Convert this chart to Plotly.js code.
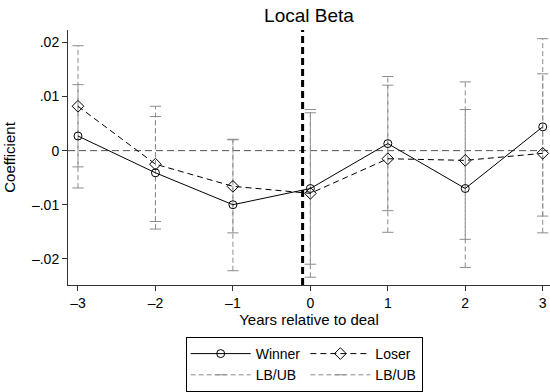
<!DOCTYPE html>
<html><head><meta charset="utf-8">
<script src="https://cdn.plot.ly/plotly-3.0.1.min.js"></script>
<style>html,body{margin:0;padding:0;background:#fff}</style>
</head><body><div id="chart" style="width:550px;height:392px"></div>
<script>
const years = [-3, -2, -1, 0, 1, 2, 3];
const xTickLabels = ['–3', '–2', '–1', '0', '1', '2', '3'];
const winner = [0.0027, -0.0041, -0.0100, -0.0070, 0.0013, -0.0070, 0.0044];
const winnerLB = [-0.0069, -0.0145, -0.0222, -0.0210, -0.0111, -0.0216, -0.0121];
const winnerUB = [0.0122, 0.0063, 0.0021, 0.0070, 0.0137, 0.0076, 0.0207];
const loser = [0.0082, -0.0025, -0.0066, -0.0079, -0.0015, -0.0018, -0.0005];
const loserLB = [-0.0030, -0.0131, -0.0152, -0.0234, -0.0151, -0.0164, -0.0152];
const loserUB = [0.0194, 0.0082, 0.0020, 0.0076, 0.0121, 0.0127, 0.0142];
const yTickVals = [-0.02, -0.01, 0, 0.01, 0.02];
const yTickLabels = ['–.02', '–.01', '0', '.01', '.02'];
const dealYear = -0.1;

function segs(xs, lo, hi) {
  const x = [], y = [];
  xs.forEach((v, i) => { x.push(v, v, null); y.push(lo[i], hi[i], null); });
  return { x, y };
}
const FONT = 'Liberation Sans, Arial, Helvetica, sans-serif';
const ciStyle = {
  mode: 'lines+markers',
  line: { color: '#8c8c8c', width: 1, dash: '5px,3px' },
  marker: { symbol: 'line-ew', size: 8, color: '#8c8c8c', line: { color: '#8c8c8c', width: 1 } },
  hoverinfo: 'skip'
};
const wci = segs(years, winnerLB, winnerUB);
const lci = segs(years, loserLB, loserUB);

const traces = [
  Object.assign({ x: wci.x, y: wci.y, name: 'LB/UB', legendgroup: 'w', legendrank: 2 }, ciStyle),
  Object.assign({ x: lci.x, y: lci.y, name: 'LB/UB', legendgroup: 'l', legendrank: 4 }, ciStyle),
  { x: years, y: winner, name: 'Winner', mode: 'lines+markers', legendgroup: 'w', legendrank: 1,
    line: { color: '#000', width: 1 },
    marker: { symbol: 'circle-open', size: 8, color: '#000', line: { width: 1 } } },
  { x: years, y: loser, name: 'Loser', mode: 'lines+markers', legendgroup: 'l', legendrank: 3,
    line: { color: '#000', width: 1, dash: '6px,4px' },
    marker: { symbol: 'diamond-open', size: 9, color: '#000', line: { width: 1 } } }
];

const layout = {
  width: 550, height: 392,
  margin: { l: 68, r: 0, t: 30, b: 102 },
  paper_bgcolor: '#fff', plot_bgcolor: '#fff',
  font: { family: FONT, size: 14, color: '#000' },
  title: { text: 'Local Beta', font: { size: 19, color: '#000', weight: 'normal' }, x: 0.5, xref: 'paper', y: 0.962, yref: 'container', yanchor: 'middle' },
  xaxis: {
    range: [-3.129, 3.094], tickvals: years, ticktext: xTickLabels,
    showgrid: false, zeroline: false, showline: true, linecolor: '#333', linewidth: 1,
    ticks: 'outside', ticklen: 5, tickcolor: '#333', tickfont: { size: 14 },
    title: { text: 'Years relative to deal', font: { size: 15 }, standoff: 3 }
  },
  yaxis: {
    range: [-0.02484, 0.0223], tickvals: yTickVals, ticktext: yTickLabels,
    showgrid: false, zeroline: false, showline: true, linecolor: '#333', linewidth: 1,
    ticks: 'outside', ticklen: 5, tickcolor: '#333', tickfont: { size: 14 },
    title: { text: 'Coefficient', font: { size: 15 }, standoff: 12 }
  },
  shapes: [
    { type: 'line', xref: 'paper', x0: 0, x1: 1, yref: 'y', y0: 0, y1: 0, layer: 'below',
      line: { color: '#555', width: 1, dash: '7px,4px' } },
    { type: 'line', xref: 'x', x0: dealYear, x1: dealYear, yref: 'paper', y0: 0, y1: 1,
      line: { color: '#000', width: 3, dash: '7px,4px' } }
  ],
  showlegend: true,
  legend: {
    orientation: 'h', traceorder: 'grouped', x: 0.49, xanchor: 'center', y: -0.205, yanchor: 'top',
    bordercolor: '#000', borderwidth: 1, tracegroupgap: 26, itemwidth: 60, font: { size: 14 }, bgcolor: '#fff'
  }
};
Plotly.newPlot('chart', traces, layout, { staticPlot: true, displayModeBar: false });
</script></body></html>
